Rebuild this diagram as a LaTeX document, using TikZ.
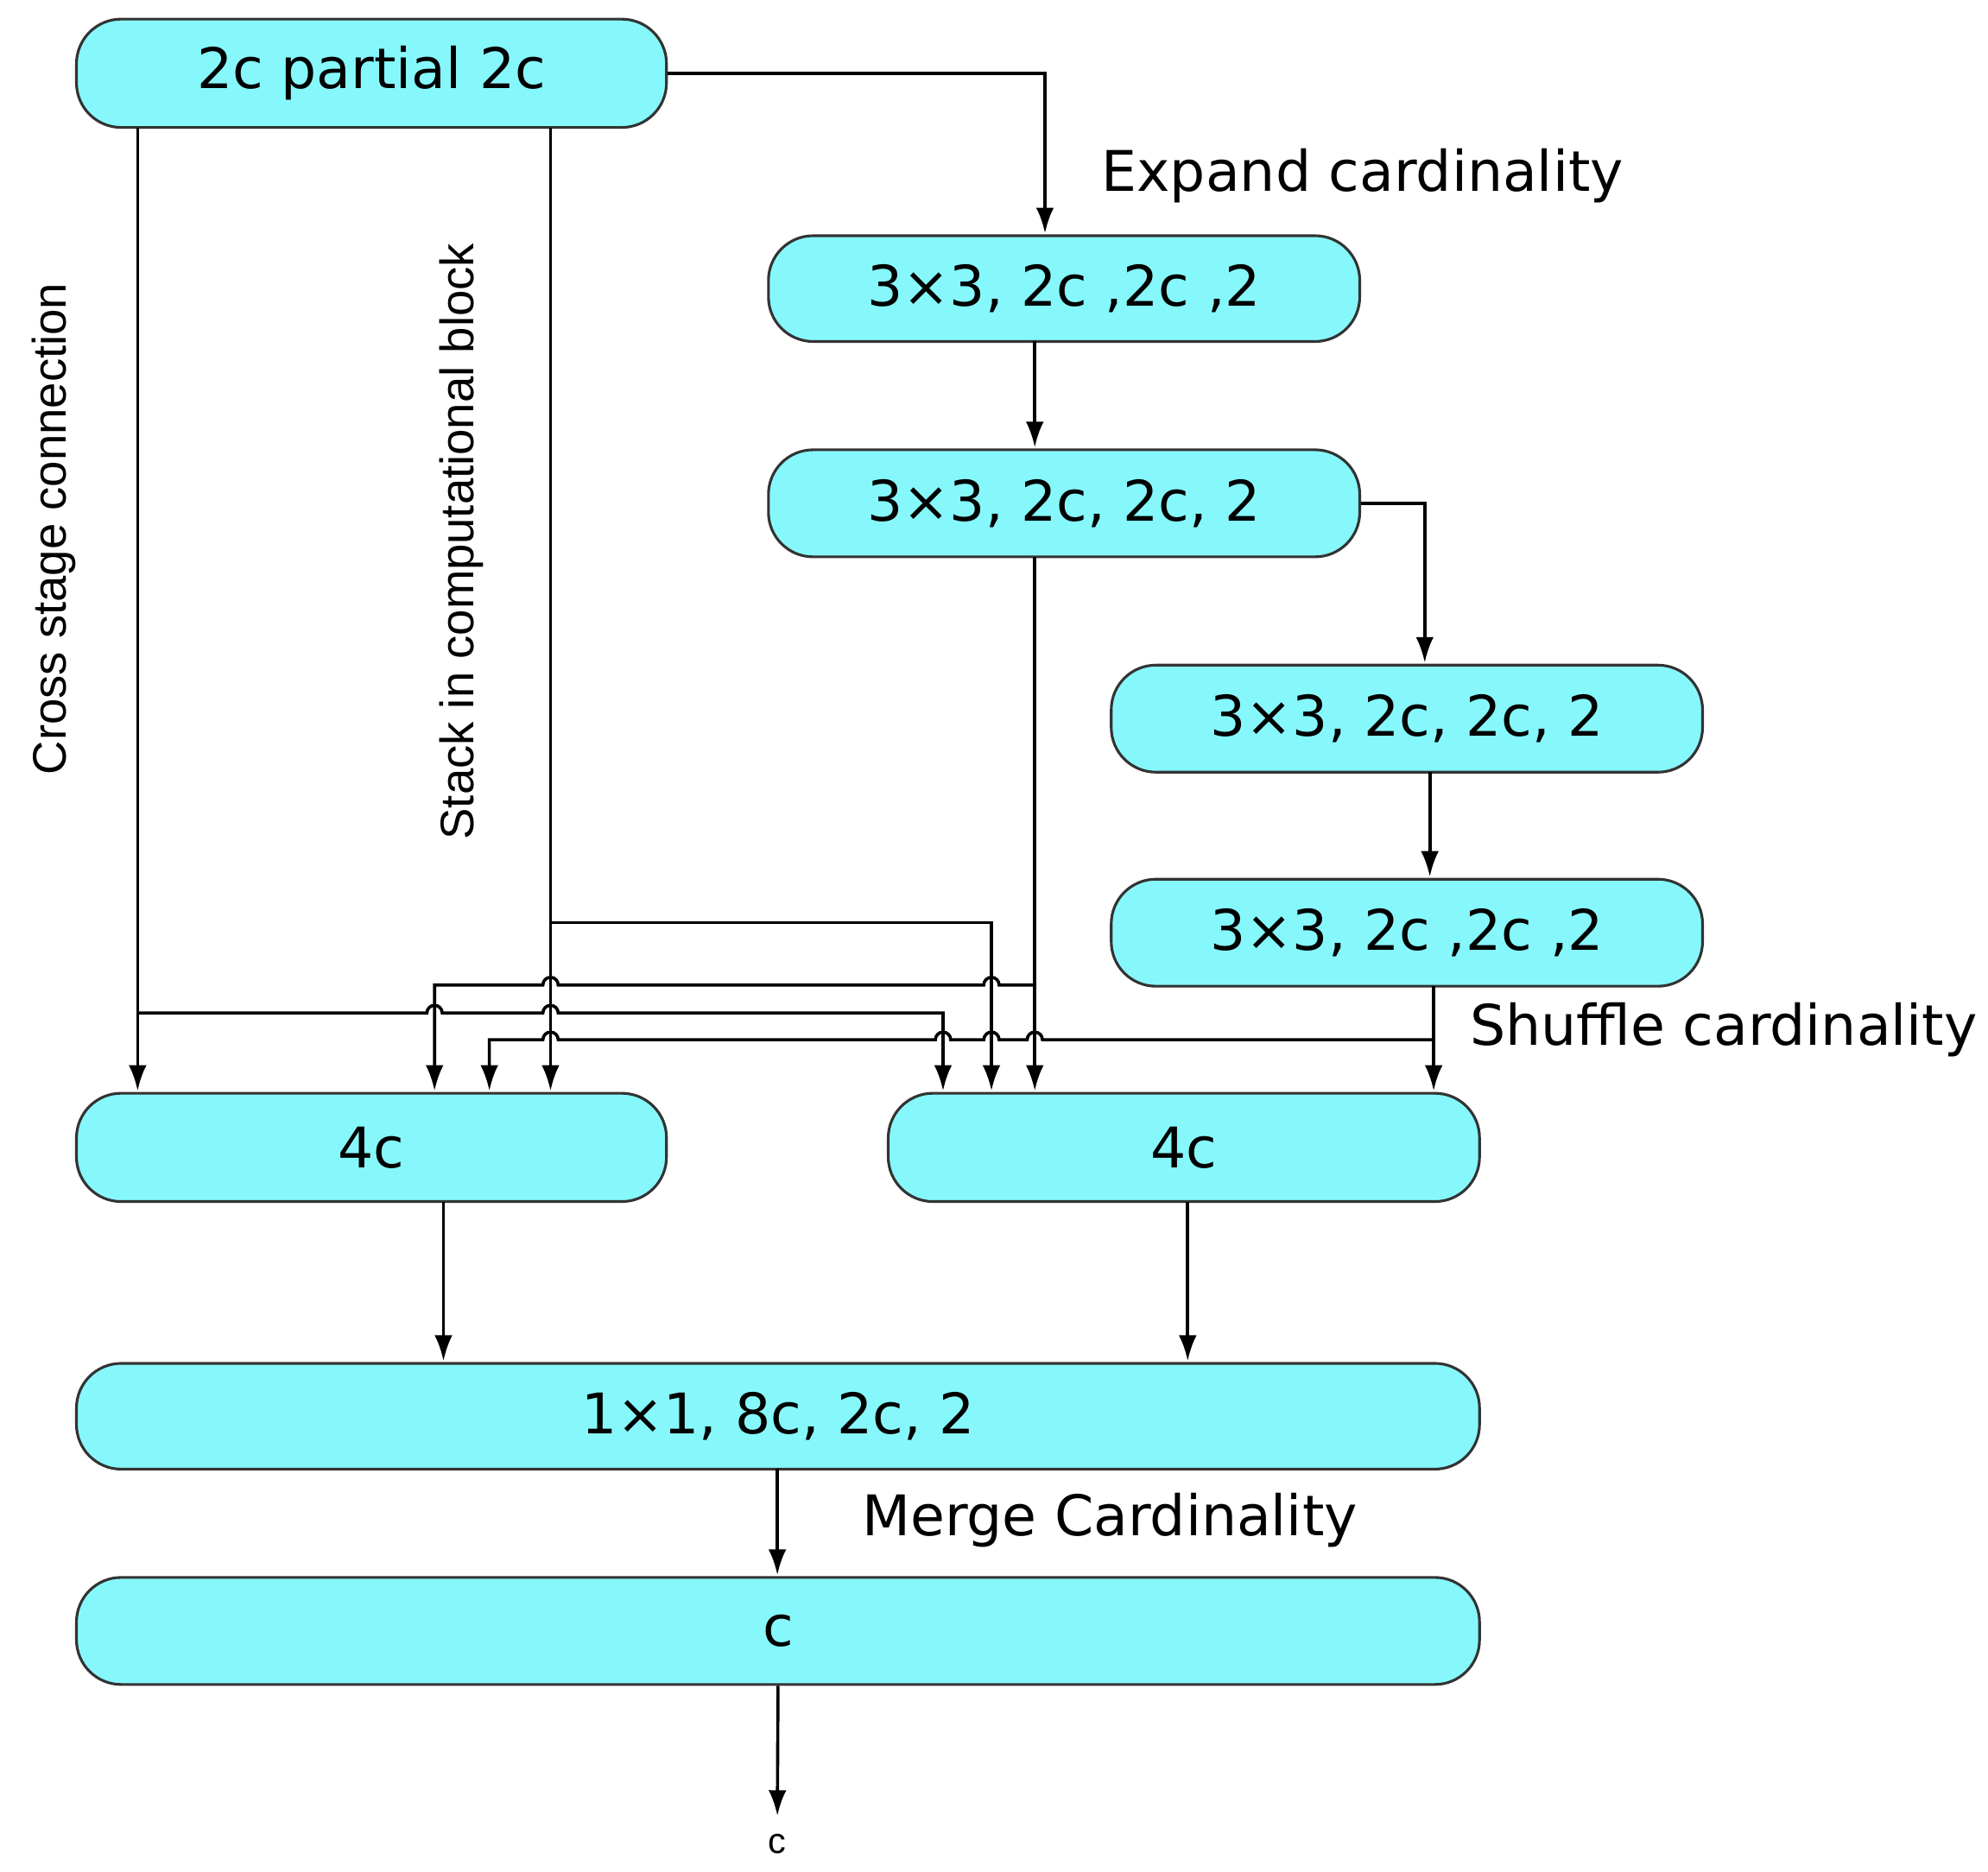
\documentclass[tikz,border=0pt]{standalone}
\usepackage{fontspec}
\setmainfont{Liberation Sans}
\newfontfamily\wide{DejaVu Sans}
\usetikzlibrary{arrows.meta}
\definecolor{boxc}{HTML}{86F8FC}
\begin{document}
\begin{tikzpicture}[x=0.01cm,y=-0.01cm,
 box/.style={draw=black!80,line width=0.6pt,fill=boxc,rounded corners=0.35cm,inner sep=0pt,font=\wide\fontsize{12.5}{14}\selectfont},
 arr/.style={-{Latex[length=0.2cm,width=0.14cm]},line width=0.7pt},
 ln/.style={line width=0.7pt},
 lab/.style={font=\wide\fontsize{12.5}{14}\selectfont},
 rlab/.style={font=\fontsize{10.5}{12}\selectfont,rotate=90}]
\useasboundingbox (0,0) rectangle (1560,1469);
\def\bx#1#2#3#4#5#6{\node[box,minimum width={(#4-#2)*0.01cm},minimum height={(#5-#3)*0.01cm}] (#1) at ({(#2+#4)/2},{(#3+#5)/2}) {#6};}
\bx{top}{60}{15}{523}{100}{2c partial 2c}
\bx{b2}{603}{185}{1067}{268}{3×3, 2c ,2c ,2}
\bx{b3}{603}{353}{1067}{437}{3×3, 2c, 2c, 2}
\bx{b4}{872}{522}{1336}{606}{3×3, 2c, 2c, 2}
\bx{b5}{872}{690}{1336}{774}{3×3, 2c ,2c ,2}
\bx{fl}{60}{858}{523}{943}{4c}
\bx{fr}{697}{858}{1161}{943}{4c}
\bx{m}{60}{1070}{1161}{1153}{1×1, 8c, 2c, 2}
\bx{c}{60}{1238}{1161}{1322}{c}
\node[lab,anchor=west] (l1) at (852,138) {Expand cardinality};
\node[lab,anchor=west] (l2) at (1141,808) {Shuffle cardinality};
\node[lab,anchor=west] (l3) at (664,1193) {Merge Cardinality};
\node[rlab] (l4) at (42,415) {Cross stage connection};
\node[rlab] (l5) at (362,425) {Stack in computational block};
\node[font=\fontsize{8}{9}\selectfont] (out) at (610,1447) {c};
\draw[arr] (top.east) -| (820,183);
\draw[arr] (812,268) -- (812,351);
\draw[arr] (b3.east) -| (1118,520);
\draw[arr] (1122,606) -- (1122,688);
\draw[arr] (108,100) -- (108,856);
\draw[arr] (432,100) -- (432,856);
\draw[arr] (812,437) -- (812,856);
\draw[arr] (1125,774) -- (1125,856);
% a
\draw[arr] (432,724) -- (778,724) -- (778,856);
% b
\draw[arr] (812,773) -- (784,773) arc(0:180:0.06cm) -- (438,773) arc(0:180:0.06cm) -- (341,773) -- (341,856);
% c
\draw[arr] (108,795) -- (335,795) arc(180:0:0.06cm) -- (426,795) arc(180:0:0.06cm) -- (740,795) -- (740,856);
% d
\draw[arr] (1125,816) -- (818,816) arc(0:180:0.06cm) -- (784,816) arc(0:180:0.06cm) -- (746,816) arc(0:180:0.06cm) -- (438,816) arc(0:180:0.06cm) -- (384,816) -- (384,856);
\draw[arr] (348,943) -- (348,1068);
\draw[arr] (932,943) -- (932,1068);
\draw[arr] (610,1153) -- (610,1236);
\draw[arr] (c.south) -- (610,1425);
\end{tikzpicture}
\end{document}
